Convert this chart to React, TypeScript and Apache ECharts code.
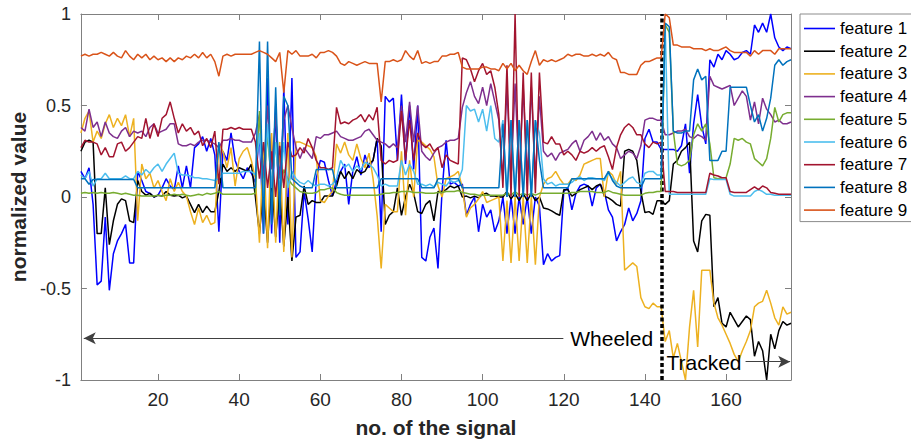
import React, { useEffect, useRef } from "react";
import * as echarts from "echarts";

const seriesNames = ["feature 1", "feature 2", "feature 3", "feature 4", "feature 5", "feature 6", "feature 7", "feature 8", "feature 9"];
const seriesColors = ["#0000FF", "#000000", "#EDB120", "#7E2F8E", "#77AC30", "#4DBEEE", "#A2142F", "#0072BD", "#D95319"];

const xTicks = [20, 40, 60, 80, 100, 120, 140, 160];
const yTicks = [-1, -0.5, 0, 0.5, 1];

const f1 = [
  0.14, 0.10, 0.16, -0.04, -0.48, -0.46, -0.11, -0.51, -0.31, -0.24,
  -0.20, -0.15, -0.36, -0.36, 0.14, 0.09, 0.03, 0.02, 0.00, 0.01,
  0.05, 0.10, 0.06, 0.04, 0.17, 0.05, 0.17, 0.05, 0.27, 0.29,
  0.33, 0.25, 0.32, 0.23, -0.19, 0.25, 0.20, 0.35, 0.20, 0.14,
  0.10, 0.16, 0.13, 0.08, 0.35, -0.20, 0.65, -0.20, 0.50, -0.25,
  0.60, -0.15, 0.65, -0.33, -0.30, 0.03, -0.12, -0.30, 0.10, 0.20,
  0.19, 0.09, 0.005, 0.09, 0.14, 0.18, -0.04, 0.14, 0.22, 0.12,
  0.23, 0.16, 0.20, 0.32, -0.19, 0.55, 0.52, 0.54, 0.20, 0.56,
  0.18, 0.50, 0.15, 0.50, -0.33, -0.35, -0.22, -0.17, -0.39, 0.03,
  0.31, 0.07, 0.08, 0.06, 0.07, -0.10, -0.04, 0.00, -0.19, -0.04, -0.11,
  -0.07, -0.19, -0.13, 0.00, -0.20, 0.00, -0.20, 0.00, -0.15, 0.00,
  -0.20, 0.00, -0.05, -0.37, -0.31, -0.35, -0.33, -0.32, 0.03, 0.05,
  -0.07, 0.02, 0.06, 0.07, 0.06, -0.05, 0.05, 0.07, 0.03, -0.07,
  -0.11, -0.24, -0.19, -0.15, -0.06, -0.13, -0.09, -0.02, 0.32, 0.37,
  0.30, 0.30, 0.26, 0.26, 0.26, 0.26, 0.25, 0.28, 0.40, 0.13,
  0.40, 0.56, 0.39, 0.29, 0.75, 0.71, 0.78, 0.75, 0.80, 0.78,
  0.75, 0.76, 0.79, 0.80, 0.78, 0.94, 0.90, 0.95, 0.90, 1.00,
  0.87, 0.82, 0.80, 0.82, 0.81,
];

const f2 = [
  0.25, 0.30, 0.31, 0.30, -0.20, -0.20, 0.05, -0.26, -0.13, -0.04,
  -0.01, -0.02, -0.13, -0.14, 0.09, 0.03, 0.01, 0.02, 0.00, 0.01,
  0.005, 0.03, 0.01, 0.005, 0.01, -0.005, 0.005, -0.04, -0.085, -0.04,
  -0.085, -0.05, -0.08, -0.08, 0.03, 0.18, 0.14, 0.16, 0.14, 0.16,
  0.15, 0.14, 0.18, 0.00, -0.20, 0.05, -0.25, 0.10, -0.22, 0.05,
  -0.27, 0.00, -0.35, -0.11, -0.10, 0.06, -0.04, -0.02, -0.03, -0.03,
  0.005, 0.005, 0.005, 0.06, 0.14, 0.10, 0.14, 0.10, 0.15, 0.13,
  0.14, 0.18, 0.20, 0.32, 0.28, -0.15, -0.10, -0.08, 0.05, -0.10,
  0.00, 0.07, 0.02, -0.08, -0.09, -0.04, -0.02, -0.13, 0.03, 0.03,
  0.04, 0.06, 0.05, 0.06, 0.00, 0.005, -0.005, 0.005, -0.005, 0.015, 0.02,
  0.005, 0.005, 0.00, 0.00, 0.03, -0.01, 0.02, -0.02, 0.02, -0.02,
  0.02, -0.02, 0.00, -0.06, -0.065, -0.076, -0.09, -0.10, 0.04, 0.04,
  0.005, 0.02, 0.04, 0.05, 0.06, 0.04, 0.06, 0.07, 0.005, -0.005,
  -0.02, -0.04, -0.05, 0.25, 0.26, 0.25, 0.20, 0.03, -0.085, -0.08,
  -0.095, -0.02, -0.02, -0.04, -0.02, 0.18, 0.20, 0.25, 0.27, 0.30,
  -0.24, -0.30, -0.13, -0.095, -0.10, -0.60, -0.55, -0.69, -0.71, -0.63,
  -0.67, -0.71, -0.68, -0.65, -0.67, -0.87, -0.79, -0.84, -1.00, -0.75,
  -0.83, -0.73, -0.68, -0.70, -0.69,
];

const f3 = [
  0.35, 0.43, 0.47, 0.30, 0.36, 0.32, 0.40, 0.45, 0.38, 0.43,
  0.39, 0.45, 0.33, 0.43, -0.13, 0.18, 0.10, 0.13, 0.05, 0.09,
  0.03, -0.02, 0.10, 0.03, 0.08, 0.03, 0.005, -0.08, -0.15, -0.06,
  -0.14, -0.10, -0.15, -0.14, 0.29, 0.25, 0.16, 0.27, 0.06, 0.21,
  0.25, 0.27, 0.20, 0.10, -0.25, 0.30, -0.28, 0.35, -0.25, 0.30,
  -0.30, 0.35, -0.33, 0.30, 0.30, 0.29, 0.28, 0.27, 0.22, -0.02,
  -0.03, 0.005, 0.03, 0.29, 0.24, 0.30, 0.23, 0.20, 0.29, 0.21,
  0.16, 0.24, 0.10, -0.10, -0.39, -0.04, -0.06, -0.08, -0.08, 0.25,
  -0.10, 0.20, 0.00, 0.31, 0.30, 0.28, 0.26, 0.22, 0.06, 0.00,
  0.10, 0.11, 0.12, 0.14, 0.05, -0.11, -0.06, -0.04, -0.01, 0.03, -0.03,
  -0.02, -0.01, 0.00, -0.35, -0.02, -0.36, 0.00, -0.35, 0.00, -0.36,
  0.00, -0.37, 0.00, 0.07, 0.10, 0.11, 0.14, 0.10, 0.07, 0.07,
  0.10, 0.09, 0.12, 0.18, 0.19, 0.20, 0.21, 0.21, 0.00, 0.14,
  0.12, 0.07, 0.14, -0.40, -0.38, -0.36, -0.38, -0.55, -0.60, -0.61,
  -0.58, -0.60, -0.60, -0.79, -0.73, -0.88, -0.80, -0.90, -1.00, -0.71,
  -0.51, -0.82, -0.40, -0.40, -0.40, -0.58, -0.66, -0.70, -0.75, -0.80,
  -0.86, -0.90, -0.84, -0.79, -0.73, -0.60, -0.58, -0.57, -0.51, -0.58,
  -0.66, -0.70, -0.60, -0.64, -0.63,
];

const f4 = [
  0.38, 0.36, 0.48, 0.38, 0.41, 0.33, 0.41, 0.35, 0.33, 0.32,
  0.36, 0.38, 0.33, 0.36, 0.35, 0.36, 0.33, 0.38, 0.40, 0.35,
  0.36, 0.37, 0.40, 0.40, 0.29, 0.28, 0.28, 0.29, 0.28, 0.30,
  0.31, 0.31, 0.30, 0.29, 0.27, 0.31, 0.31, 0.32, 0.31, 0.31,
  0.30, 0.30, 0.30, 0.35, 0.45, 0.10, 0.50, 0.15, 0.45, 0.10,
  0.42, 0.50, 0.38, 0.27, 0.21, 0.27, 0.24, 0.21, 0.33, 0.32,
  0.34, 0.34, 0.35, 0.36, 0.33, 0.32, 0.31, 0.31, 0.32, 0.33,
  0.36, 0.37, 0.34, 0.31, 0.30, 0.29, 0.27, 0.29, 0.27, 0.50,
  0.30, 0.52, 0.30, 0.50, 0.25, 0.22, 0.20, 0.24, 0.27, 0.28,
  0.30, 0.31, 0.31, 0.32, 0.49, 0.57, 0.63, 0.55, 0.51, 0.60, 0.50,
  0.62, 0.52, 0.42, 0.10, 0.60, 0.10, 0.62, 0.10, 0.60, 0.10,
  0.60, 0.10, 0.55, 0.25, 0.22, 0.24, 0.20, 0.24, 0.25, 0.26,
  0.29, 0.31, 0.25, 0.31, 0.33, 0.36, 0.31, 0.35, 0.31, 0.33,
  0.29, 0.27, 0.21, 0.23, 0.25, 0.24, 0.21, 0.28, 0.42, 0.43,
  0.43, 0.42, 0.42, 0.34, 0.34, 0.35, 0.36, 0.36, 0.37, 0.33,
  0.32, 0.34, 0.33, 0.31, 0.66, 0.61, 0.60, 0.59, 0.60, 0.61,
  0.50, 0.54, 0.58, 0.55, 0.42, 0.52, 0.40, 0.54, 0.48, 0.45,
  0.41, 0.42, 0.40, 0.40, 0.41,
];

const f5 = [
  0.02, 0.025, 0.02, 0.025, 0.02, 0.025, 0.02, 0.02, 0.025, 0.02,
  0.015, 0.02, 0.015, 0.01, 0.01, 0.005, 0.005, 0.005, 0.005, 0.01,
  0.005, 0.01, 0.01, 0.015, 0.01, 0.015, 0.01, 0.005, 0.01, 0.015,
  0.01, 0.02, 0.015, 0.02, 0.03, 0.015, 0.015, 0.015, 0.015, 0.015,
  0.015, 0.015, 0.015, 0.02, 0.47, 0.02, 0.35, 0.05, 0.30, 0.03,
  0.15, 0.10, 0.07, 0.05, 0.03, 0.024, 0.02, 0.02, 0.024, 0.04,
  0.04, 0.047, 0.05, 0.024, 0.015, 0.01, 0.01, 0.01, 0.01, 0.01,
  0.01, 0.01, 0.01, 0.01, 0.015, 0.02, 0.02, 0.025, 0.025, 0.03,
  0.03, 0.03, 0.025, 0.025, 0.025, 0.02, 0.02, 0.02, 0.025, 0.025,
  0.03, 0.03, 0.03, 0.035, 0.025, 0.02, 0.015, 0.015, 0.01, 0.01, 0.01,
  0.01, 0.01, 0.01, 0.01, 0.02, 0.01, 0.03, 0.01, 0.02, 0.01,
  0.02, 0.01, 0.02, 0.02, 0.02, 0.02, 0.02, 0.02, 0.02, 0.02,
  0.025, 0.025, 0.03, 0.03, 0.03, 0.03, 0.025, 0.025, 0.025, 0.035,
  0.025, 0.02, 0.015, 0.01, 0.01, 0.01, 0.01, 0.01, 0.02, 0.025,
  0.025, 0.03, 0.03, 0.94, 0.90, 0.36, 0.18, 0.17, 0.18, 0.20,
  0.34, 0.40, 0.36, 0.40, 0.29, 0.105, 0.10, 0.105, 0.105, 0.18,
  0.32, 0.31, 0.32, 0.30, 0.29, 0.21, 0.19, 0.17, 0.21, 0.32,
  0.49, 0.41, 0.45, 0.46, 0.46,
];

const f6 = [
  0.12, 0.10, 0.14, 0.06, 0.10, 0.10, 0.13, 0.10, 0.10, 0.10,
  0.10, 0.115, 0.10, 0.10, 0.14, 0.12, 0.15, 0.13, 0.16, 0.18,
  0.14, 0.18, 0.21, 0.24, 0.13, 0.12, 0.12, 0.115, 0.105, 0.105,
  0.10, 0.10, 0.095, 0.09, 0.10, 0.13, 0.13, 0.13, 0.13, 0.13,
  0.14, 0.14, 0.14, 0.12, 0.35, 0.00, 0.40, 0.05, 0.30, 0.02,
  0.30, 0.05, 0.14, 0.10, 0.08, 0.07, 0.09, 0.07, 0.06, 0.07,
  0.07, 0.06, 0.07, 0.10, 0.20, 0.16, 0.18, 0.14, 0.17, 0.15,
  0.19, 0.18, 0.16, 0.12, 0.06, 0.07, 0.06, 0.06, 0.06, 0.20,
  0.12, 0.18, 0.14, 0.07, 0.07, 0.06, 0.07, 0.055, 0.08, 0.07,
  0.06, 0.09, 0.08, 0.09, 0.15, 0.50, 0.47, 0.48, 0.41, 0.48, 0.36,
  0.50, 0.32, 0.30, 0.42, 0.00, 0.42, 0.00, 0.42, 0.00, 0.42,
  0.00, 0.42, 0.35, 0.10, 0.07, 0.08, 0.06, 0.07, 0.07, 0.07,
  0.08, 0.10, 0.11, 0.09, 0.105, 0.105, 0.10, 0.10, 0.09, 0.13,
  0.10, 0.08, 0.06, 0.08, 0.10, 0.11, 0.08, 0.07, 0.13, 0.14,
  0.14, 0.12, 0.12, 0.93, 0.015, 0.015, 0.015, 0.015, 0.015, 0.015,
  0.015, 0.015, 0.015, 0.015, 0.10, 0.095, 0.095, 0.095, 0.095, 0.015,
  0.005, 0.005, 0.005, 0.005, 0.005, 0.03, 0.04, 0.03, 0.015, 0.015,
  0.01, 0.01, 0.01, 0.01, 0.01,
];

const f7 = [
  0.27, 0.31, 0.30, 0.30, 0.29, 0.23, 0.27, 0.22, 0.22, 0.29,
  0.30, 0.25, 0.27, 0.30, 0.33, 0.32, 0.43, 0.32, 0.40, 0.33,
  0.43, 0.45, 0.52, 0.43, 0.35, 0.40, 0.36, 0.38, 0.34, 0.36,
  0.28, 0.32, 0.27, 0.36, 0.07, 0.37, 0.37, 0.38, 0.37, 0.38,
  0.37, 0.37, 0.37, 0.30, 0.10, 0.30, 0.05, 0.25, 0.00, 0.28,
  0.05, 0.30, 0.22, 0.23, 0.27, 0.24, 0.32, 0.27, 0.20, 0.16,
  0.16, 0.15, 0.16, 0.49, 0.40, 0.41, 0.40, 0.42, 0.43, 0.45,
  0.41, 0.45, 0.42, 0.49, 0.20, 0.18, 0.20, 0.19, 0.20, 0.47,
  0.20, 0.42, 0.20, 0.35, 0.29, 0.27, 0.29, 0.25, 0.27, 0.16,
  0.23, 0.20, 0.19, 0.18, 0.76, 0.75, 0.70, 0.63, 0.69, 0.73, 0.67,
  0.69, 0.60, 0.45, 0.05, 0.72, 0.00, 1.00, 0.00, 0.68, 0.00,
  0.68, 0.02, 0.68, 0.30, 0.29, 0.33, 0.29, 0.29, 0.23, 0.25,
  0.23, 0.20, 0.25, 0.24, 0.25, 0.27, 0.25, 0.27, 0.28, 0.22,
  0.15, 0.27, 0.34, 0.38, 0.40, 0.38, 0.34, 0.34, 0.29, 0.27,
  0.30, 0.29, 0.30, 0.03, 0.03, 0.03, 0.025, 0.025, 0.025, 0.025,
  0.025, 0.025, 0.025, 0.025, 0.13, 0.12, 0.115, 0.105, 0.105, 0.03,
  0.025, 0.025, 0.025, 0.025, 0.04, 0.055, 0.04, 0.06, 0.05, 0.025,
  0.02, 0.015, 0.015, 0.015, 0.015,
];

const f8 = [
  0.10, 0.10, 0.07, 0.096, 0.096, 0.096, 0.096, 0.096, 0.096, 0.096,
  0.096, 0.096, 0.096, 0.096, 0.05, 0.05, 0.05, 0.05, 0.05, 0.05,
  0.05, 0.05, 0.05, 0.05, 0.05, 0.05, 0.05, 0.05, 0.05, 0.05,
  0.05, 0.05, 0.05, 0.05, 0.30, 0.05, 0.05, 0.05, 0.05, 0.05,
  0.05, 0.05, 0.05, 0.05, 0.85, -0.20, 0.85, -0.15, 0.60, -0.10,
  0.55, 0.50, 0.10, 0.08, 0.06, 0.05, 0.05, 0.05, 0.15, 0.15,
  0.15, 0.15, 0.15, 0.05, 0.05, 0.05, 0.05, 0.05, 0.05, 0.05,
  0.05, 0.05, 0.05, 0.05, 0.10, 0.10, 0.10, 0.10, 0.10, 0.10,
  0.10, 0.10, 0.10, 0.10, 0.05, 0.05, 0.05, 0.05, 0.10, 0.10,
  0.10, 0.10, 0.10, 0.10, 0.05, 0.05, 0.05, 0.05, 0.05, 0.05, 0.05,
  0.05, 0.05, 0.05, 0.40, 0.00, 0.42, 0.00, 0.42, 0.00, 0.42,
  0.00, 0.42, 0.20, 0.05, 0.05, 0.05, 0.05, 0.05, 0.05, 0.05,
  0.10, 0.10, 0.10, 0.10, 0.10, 0.10, 0.10, 0.10, 0.10, 0.14,
  0.09, 0.06, 0.05, 0.05, 0.05, 0.05, 0.05, 0.05, 0.10, 0.10,
  0.10, 0.10, 0.10, 0.95, 0.93, 0.36, 0.35, 0.35, 0.36, 0.36,
  0.64, 0.70, 0.64, 0.66, 0.20, 0.20, 0.20, 0.25, 0.25, 0.60,
  0.60, 0.60, 0.60, 0.60, 0.50, 0.41, 0.45, 0.36, 0.43, 0.54,
  0.72, 0.75, 0.72, 0.74, 0.75,
];

const f9 = [
  0.77, 0.78, 0.77, 0.78, 0.78, 0.79, 0.78, 0.77, 0.79, 0.77,
  0.76, 0.80, 0.77, 0.75, 0.78, 0.76, 0.78, 0.75, 0.77, 0.75,
  0.76, 0.74, 0.76, 0.74, 0.76, 0.75, 0.77, 0.76, 0.78, 0.76,
  0.79, 0.76, 0.78, 0.74, 0.66, 0.77, 0.78, 0.77, 0.78, 0.78,
  0.78, 0.78, 0.78, 0.79, 0.80, 0.79, 0.78, 0.76, 0.74, 0.79,
  0.57, 0.80, 0.78, 0.80, 0.77, 0.77, 0.77, 0.78, 0.76, 0.79,
  0.79, 0.80, 0.79, 0.77, 0.73, 0.72, 0.74, 0.73, 0.72, 0.73,
  0.74, 0.73, 0.73, 0.73, 0.52, 0.74, 0.74, 0.75, 0.74, 0.75,
  0.80, 0.77, 0.75, 0.80, 0.73, 0.74, 0.73, 0.74, 0.74, 0.77,
  0.77, 0.78, 0.78, 0.79, 0.71, 0.70, 0.70, 0.70, 0.70, 0.71, 0.71,
  0.70, 0.70, 0.69, 0.73, 0.70, 0.73, 0.69, 0.72, 0.69, 0.67,
  0.74, 0.80, 0.72, 0.75, 0.74, 0.75, 0.74, 0.75, 0.76, 0.78,
  0.77, 0.78, 0.78, 0.77, 0.77, 0.78, 0.77, 0.78, 0.77, 0.79,
  0.76, 0.75, 0.68, 0.68, 0.67, 0.67, 0.67, 0.72, 0.74, 0.74,
  0.75, 0.76, 0.76, 1.00, 0.98, 0.83, 0.83, 0.82, 0.82, 0.82,
  0.81, 0.81, 0.81, 0.80, 0.81, 0.80, 0.80, 0.81, 0.82, 0.80,
  0.79, 0.79, 0.79, 0.79, 0.77, 0.80, 0.78, 0.80, 0.80, 0.80,
  0.78, 0.81, 0.81, 0.81, 0.81,
];

const allSeries = [f1, f2, f3, f4, f5, f6, f7, f8, f9];

// annotations (data coordinates)
const dividerX = 144.2;
const wheeledArrow = { from: 119.9, to: 1.7, y: -0.772 };
const trackedArrow = { from: 164.8, to: 175.8, y: -0.9 };
const wheeledLabel = { x: 121.6, y: -0.772, text: "Wheeled" };
const trackedLabel = { x: 145.3, y: -0.906, text: "Tracked" };

const FONT = "'Liberation Sans', Arial, Helvetica, sans-serif";
const AXIS_COLOR = "#808080";
const TEXT_COLOR = "#262626";

export default function App() {
  const ref = useRef<HTMLDivElement>(null);

  useEffect(() => {
    document.body.style.margin = "0";
    if (!ref.current) return;
    const chart = echarts.init(ref.current, undefined, { renderer: "svg" });

    const series: any[] = allSeries.map((vals, si) => ({
      name: seriesNames[si],
      type: "line",
      data: vals.map((v, i) => [i + 1, v]),
      symbol: "none",
      showSymbol: false,
      lineStyle: { width: 1.5, color: seriesColors[si] },
      itemStyle: { color: seriesColors[si] },
      emphasis: { disabled: true },
      silent: true,
      z: 2 + si,
    }));

    series[8].markLine = {
      silent: true,
      animation: false,
      label: { show: false },
      emphasis: { disabled: true },
      symbol: ["none", "none"],
      data: [
        [
          { coord: [dividerX, -1], symbol: "none", lineStyle: { color: "#000", width: 3.5, type: [4, 2.5] } },
          { coord: [dividerX, 1], symbol: "none" },
        ],
        [
          { coord: [wheeledArrow.from, wheeledArrow.y], symbol: "none", lineStyle: { color: "#404040", width: 1, type: "solid" } },
          { coord: [wheeledArrow.to, wheeledArrow.y], symbol: "arrow", symbolSize: [9, 12] },
        ],
        [
          { coord: [trackedArrow.from, trackedArrow.y], symbol: "none", lineStyle: { color: "#404040", width: 1, type: "solid" } },
          { coord: [trackedArrow.to, trackedArrow.y], symbol: "arrow", symbolSize: [9, 12] },
        ],
      ],
    };
    series[8].markPoint = {
      silent: true,
      animation: false,
      symbol: "circle",
      symbolSize: 0,
      data: [wheeledLabel, trackedLabel].map((l) => ({
        coord: [l.x, l.y],
        symbolSize: 0,
        itemStyle: { color: "transparent" },
        label: {
          show: true,
          position: "right",
          distance: 0,
          formatter: l.text,
          color: "#000",
          fontSize: 21,
          fontFamily: FONT,
        },
      })),
    };

    const baseAxisLine = { show: true, onZero: false, lineStyle: { color: AXIS_COLOR, width: 1 } };

    chart.setOption({
      animation: false,
      backgroundColor: "#ffffff",
      textStyle: { fontFamily: FONT },
      grid: { left: 73, right: 120, top: 14, bottom: 62, containLabel: false },
      legend: {
        data: seriesNames,
        orient: "vertical",
        left: 800,
        top: 14,
        padding: [6, 30, 3, 4],
        icon: "path://M0 0H31V1.6H0Z",
        itemWidth: 31,
        itemHeight: 17,
        itemGap: 5.7,
        borderColor: "#8c8c8c",
        borderWidth: 1,
        backgroundColor: "#ffffff",
        selectedMode: false,
        textStyle: { fontSize: 17, color: "#000", fontFamily: FONT },
      },
      xAxis: [
        {
          type: "value",
          min: 1,
          max: 176,
          name: "no. of the signal",
          nameLocation: "middle",
          nameGap: 37,
          nameTextStyle: { fontSize: 21, fontWeight: "bold", color: TEXT_COLOR, fontFamily: FONT },
          axisLine: baseAxisLine,
          axisTick: { show: true, inside: true, length: 6, lineStyle: { color: AXIS_COLOR }, customValues: xTicks },
          axisLabel: { show: true, customValues: xTicks, fontSize: 19, color: TEXT_COLOR, margin: 10, fontFamily: FONT },
          splitLine: { show: false },
        },
        {
          type: "value",
          min: 1,
          max: 176,
          position: "top",
          axisLine: baseAxisLine,
          axisTick: { show: true, inside: true, length: 6, lineStyle: { color: AXIS_COLOR }, customValues: xTicks },
          axisLabel: { show: false },
          splitLine: { show: false },
        },
      ],
      yAxis: [
        {
          type: "value",
          min: -1,
          max: 1,
          interval: 0.5,
          name: "normalized value",
          nameLocation: "middle",
          nameGap: 48,
          nameTextStyle: { fontSize: 21, fontWeight: "bold", color: TEXT_COLOR, fontFamily: FONT },
          axisLine: baseAxisLine,
          axisTick: { show: true, inside: true, length: 6, lineStyle: { color: AXIS_COLOR }, customValues: yTicks },
          axisLabel: { show: true, customValues: yTicks, fontSize: 18, color: TEXT_COLOR, margin: 10, fontFamily: FONT },
          splitLine: { show: false },
        },
        {
          type: "value",
          min: -1,
          max: 1,
          interval: 0.5,
          position: "right",
          axisLine: baseAxisLine,
          axisTick: { show: true, inside: true, length: 6, lineStyle: { color: AXIS_COLOR } },
          axisLabel: { show: false },
          splitLine: { show: false },
        },
      ],
      series,
    });

    return () => chart.dispose();
  }, []);

  return <div ref={ref} style={{ width: 911, height: 443 }} />;
}
